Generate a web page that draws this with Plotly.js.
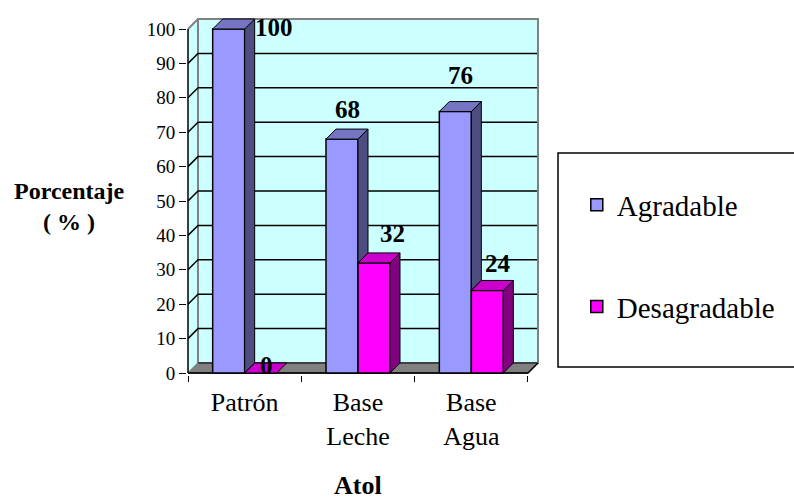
<!DOCTYPE html>
<html><head><meta charset="utf-8">
<script src="https://cdn.plot.ly/plotly-3.0.1.min.js"></script>
<style>html,body{margin:0;padding:0;background:#fff}</style>
</head><body><div id="chart" style="width:794px;height:500px"></div>
<script>
// ---- data ----
const categories = ['Patrón', 'Base<br>Leche', 'Base<br>Agua'];
const seriesNames = ['Agradable', 'Desagradable'];
const agradable = [100, 68, 76];
const desagradable = [0, 32, 24];
const yTicks = [0, 10, 20, 30, 40, 50, 60, 70, 80, 90, 100];
const xTitle = 'Atol';
const yTitle = 'Porcentaje<br>( % )';

// ---- style / geometry ----
const series = [agradable, desagradable];
const FRONT = ['#9999FF', '#FF00FF'];
const TOP = ['#7575C4', '#CC00CC'];
const SIDE = ['#4D4D80', '#800080'];
const WALL = '#CCFFFF';
const PXU = 113.33, PYU = 3.44;       // px per axis unit
const DX = 10 / PXU, DY = 10 / PYU;   // 3-D depth offset
const BW = 32 / PXU;                  // bar width
const nCat = categories.length;
const yMax = yTicks[yTicks.length - 1];
const xr = [-0.5 - 1 / PXU, -0.5 + 354 / PXU];
const yr = [-2 / PYU, 355 / PYU];
const FONT = 'Liberation Serif';

const traces = [];
const base = {mode: 'lines', hoverinfo: 'skip', showlegend: false};
const L = -0.5, R = nCat - 0.5;

// walls
traces.push(Object.assign({}, base, {x: [L, L, L + DX, L + DX, L], y: [0, yMax, yMax + DY, DY, 0],
  fill: 'toself', fillcolor: WALL, line: {width: 0}}));
traces.push(Object.assign({}, base, {x: [L + DX, R + DX, R + DX, L + DX, L + DX], y: [DY, DY, yMax + DY, yMax + DY, DY],
  fill: 'toself', fillcolor: WALL, line: {color: '#808080', width: 2}}));
// floor
traces.push(Object.assign({}, base, {x: [L, R, R + DX, L + DX, L], y: [0, 0, DY, DY, 0],
  fill: 'toself', fillcolor: '#808080', line: {color: '#000', width: 1}}));
// gridlines
const gx = [], gy = [];
yTicks.forEach(v => { if (v > 0 && v < yMax) { gx.push(L, L + DX, R + DX, null); gy.push(v, v + DY, v + DY, null); } });
traces.push(Object.assign({}, base, {x: gx, y: gy, line: {color: '#000', width: 1.5}}));
// wall edges
traces.push(Object.assign({}, base, {x: [L, L + DX, R + DX, R + DX], y: [yMax, yMax + DY, yMax + DY, DY], line: {color: '#808080', width: 2}}));
traces.push(Object.assign({}, base, {x: [L, L + DX], y: [0, DY], line: {color: '#808080', width: 1.5}}));
// front value axis and category axis edge
traces.push(Object.assign({}, base, {x: [L, L], y: [0, yMax], line: {color: '#000', width: 1.5}}));
traces.push(Object.assign({}, base, {x: [L, R, R + DX], y: [0, 0, DY], line: {color: '#000', width: 1.5}}));

// bars (front faces)
const xs = categories.map((c, i) => i);
series.forEach((vals, s) => {
  traces.push({type: 'bar', x: xs, y: vals, width: BW, offset: s === 0 ? -BW : 0,
    name: seriesNames[s], legendgroup: 'g' + s, xaxis: 'x2', yaxis: 'y2', hoverinfo: 'skip',
    marker: {color: FRONT[s], line: {color: '#000', width: 1.5}}});
});
// 3-D faces
const ov = Object.assign({}, base, {xaxis: 'x2', yaxis: 'y2'});
for (let i = 0; i < nCat; i++) {
  series.forEach((vals, s) => {
    const v = vals[i];
    const x0 = i + (s === 0 ? -BW : 0), x1 = x0 + BW;
    let lo = 0;
    if (s === 0) lo = Math.min(series[1][i], v);
    if (v > lo) {
      traces.push(Object.assign({}, ov, {x: [x1, x1 + DX, x1 + DX, x1, x1], y: [lo, lo + DY, v + DY, v, lo],
        fill: 'toself', fillcolor: SIDE[s], line: {color: '#000', width: 1}}));
    }
    traces.push(Object.assign({}, ov, {x: [x0, x1, x1 + DX, x0 + DX, x0], y: [v, v, v + DY, v + DY, v],
      fill: 'toself', fillcolor: TOP[s], line: {color: '#000', width: 1}}));
  });
}

// data labels (pixel nudges to follow the reference placement)
const labelNudge = [[[40, -8], [0, 20], [0, 26]], [[1, -2], [13, 19], [6, 17]]];
const annotations = [];
series.forEach((vals, s) => vals.forEach((v, i) => {
  const cx = i + (s === 0 ? -BW / 2 : BW / 2) + DX / 2;
  annotations.push({xref: 'x2', yref: 'y2', x: cx, y: v + DY, text: '<b>' + v + '</b>', showarrow: false,
    xanchor: 'center', yanchor: 'middle', xshift: labelNudge[s][i][0], yshift: labelNudge[s][i][1],
    font: {family: FONT, size: 25, color: '#000'}});
}));
annotations.push({xref: 'paper', yref: 'paper', x: -0.3296, y: 0.4706, text: '<b>' + yTitle + '</b>', showarrow: false,
  xanchor: 'center', yanchor: 'middle', font: {family: FONT, size: 24, color: '#000'}});
annotations.push({xref: 'paper', yref: 'paper', x: 0.4817, y: -0.31, text: '<b>' + xTitle + '</b>', showarrow: false,
  xanchor: 'center', yanchor: 'middle', font: {family: FONT, size: 26, color: '#000'}});

const layout = {
  width: 794, height: 500,
  margin: {l: 187, r: 252, t: 18, b: 125},
  paper_bgcolor: '#fff', plot_bgcolor: 'rgba(0,0,0,0)',
  showlegend: true,
  legend: {x: 1.098, y: 0.548, xanchor: 'left', yanchor: 'top', traceorder: 'grouped', tracegroupgap: 61,
    font: {family: FONT, size: 29, color: '#000'}, bgcolor: 'rgba(0,0,0,0)', borderwidth: 0},
  xaxis: {range: xr, tickvals: xs, ticktext: categories, ticks: '', ticklabelstandoff: 9, showgrid: false, zeroline: false, showline: false,
    tickfont: {family: FONT, size: 26, color: '#000'}, fixedrange: true},
  yaxis: {range: yr, tickvals: yTicks, ticks: 'outside', ticklen: 7, tickwidth: 1, tickcolor: '#000',
    showgrid: false, zeroline: false, showline: false, tickfont: {family: FONT, size: 19, color: '#000'}, fixedrange: true},
  xaxis2: {overlaying: 'x', anchor: 'y2', range: xr, tickvals: xs.map(i => i - 0.5).concat([R]), ticks: 'outside', ticklen: 6,
    tickwidth: 1, tickcolor: '#000', showticklabels: false, showgrid: false, zeroline: false, showline: false, fixedrange: true},
  yaxis2: {overlaying: 'y', range: yr, showticklabels: false, ticks: '', showgrid: false, zeroline: false, showline: false, fixedrange: true},
  annotations: annotations,
  shapes: [{type: 'rect', xref: 'paper', yref: 'paper', x0: 1.0451, x1: 1.75, y0: 0.0224, y1: 0.6218,
    line: {color: '#000', width: 1.5}, fillcolor: 'rgba(0,0,0,0)'}]
};
Plotly.newPlot('chart', traces, layout, {displayModeBar: false, staticPlot: true});
</script></body></html>
